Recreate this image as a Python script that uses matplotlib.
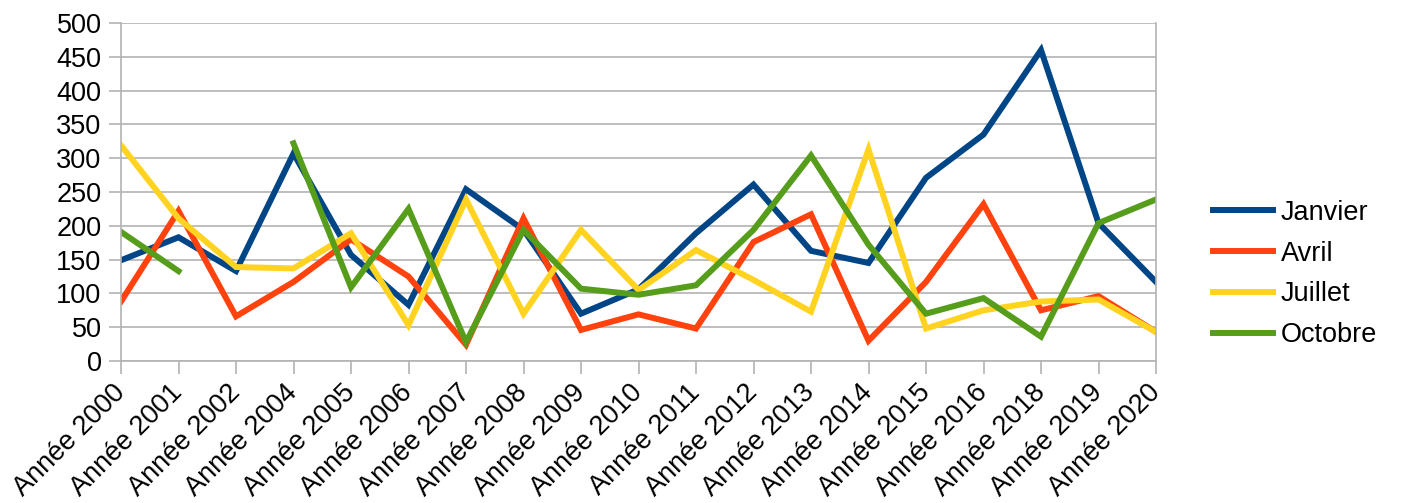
import numpy as np
import matplotlib
matplotlib.use("Agg")
import matplotlib.pyplot as plt

plt.rcParams['font.family'] = ['Liberation Sans', 'DejaVu Sans']

annees = ["Année 2000", "Année 2001", "Année 2002", "Année 2004", "Année 2005",
          "Année 2006", "Année 2007", "Année 2008", "Année 2009", "Année 2010",
          "Année 2011", "Année 2012", "Année 2013", "Année 2014", "Année 2015",
          "Année 2016", "Année 2018", "Année 2019", "Année 2020"]

janvier = [149, 183, 133, 307, 157, 83, 254, 194, 70, 106, 189, 261, 163, 145, 271, 335, 460, 204, 117]
avril = [88, 222, 66, 117, 180, 125, 24, 211, 46, 69, 48, 176, 217, 30, 117, 232, 75, 96, 43]
juillet = [319, 211, 139, 137, 189, 53, 239, 70, 194, 105, 164, 120, 73, 313, 48, 75, 88, 91, 43]
octobre = [191, 133, np.nan, 322, 109, 225, 28, 194, 107, 98, 112, 194, 304, 172, 70, 93, 36, 204, 239]

series = [("Janvier", janvier, "#004586"),
          ("Avril", avril, "#ff420e"),
          ("Juillet", juillet, "#ffd320"),
          ("Octobre", octobre, "#579d1c")]

fig = plt.figure(figsize=(14.21, 5.03), dpi=100)
ax = fig.add_axes([121 / 1421, 142 / 503, 1035 / 1421, 338 / 503])

x = np.arange(len(annees))
for name, vals, col in series:
    ax.plot(x, vals, color=col, lw=4.3, label=name, solid_joinstyle='miter')

ax.set_xlim(0, len(annees) - 1)
ax.set_ylim(0, 500)
ax.set_yticks(range(0, 501, 50))
ax.set_xticks(x)
ax.set_xticklabels(annees, rotation=45, ha='right', va='center', rotation_mode='anchor')
ax.grid(axis='y', color='#b3b3b3', lw=1.2)
ax.set_axisbelow(True)
for s in ['left', 'right', 'bottom']:
    ax.spines[s].set_color('#b3b3b3')
    ax.spines[s].set_linewidth(1.2)
ax.spines['top'].set_visible(False)
ax.tick_params(axis='both', colors='#b3b3b3', labelcolor='black', labelsize=19.5,
               length=9, width=1.2, pad=5)
ax.tick_params(axis='x', pad=11)

ax.legend(loc='center left', bbox_to_anchor=(1213 / 1421, 1 - 274 / 503),
          bbox_transform=fig.transFigure, frameon=False, fontsize=19.5,
          handlelength=2.2, handletextpad=0.3, labelspacing=0.55,
          borderpad=0, borderaxespad=0)

fig.savefig("out.png", dpi=100)
